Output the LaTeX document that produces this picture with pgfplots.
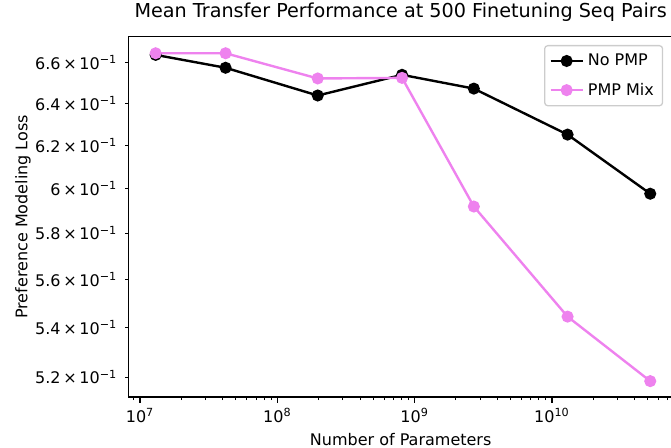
\documentclass[border=0pt]{standalone}
\usepackage{fontspec}
\setmainfont{DejaVu Sans}
\usepackage{pgfplots}
\pgfplotsset{compat=1.18}
\definecolor{mviolet}{RGB}{238,130,238}
\definecolor{legedge}{gray}{0.8}
\newcommand{\sci}[2]{#1\,×\,10\textsuperscript{−#2}}
\newcommand{\dec}[1]{10\textsuperscript{#1}}
\begin{document}
\begin{tikzpicture}
\begin{axis}[
  at={(0,0)}, anchor=south west,
  scale only axis, width=340.44pt, height=225.19pt,
  xmode=log, ymode=log,
  xmin=8.22e6, xmax=7.62e10, ymin=0.5122, ymax=0.6732,
  font=\fontsize{10}{12}\selectfont,
  axis line style={black, line width=0.8pt},
  tick pos=left, tick align=outside,
  major tick length=3.5pt, minor tick length=2pt,
  every tick/.style={black, line width=0.8pt},
  every minor tick/.append style={line width=0.6pt},
  xtick={1e7,1e8,1e9,1e10},
  xticklabels={\dec{7},\dec{8},\dec{9},\dec{10}},
  minor xtick={9e6,2e7,3e7,4e7,5e7,6e7,7e7,8e7,9e7,2e8,3e8,4e8,5e8,6e8,7e8,8e8,9e8,2e9,3e9,4e9,5e9,6e9,7e9,8e9,9e9,2e10,3e10,4e10,5e10,6e10,7e10},
  ytick={0.52,0.54,0.56,0.58,0.60,0.62,0.64,0.66},
  yticklabels={\sci{5.2}{1},\sci{5.4}{1},\sci{5.6}{1},\sci{5.8}{1},\sci{6}{1},\sci{6.2}{1},\sci{6.4}{1},\sci{6.6}{1}},
  yminorticks=false,
  ytick style={/pgfplots/major tick length=2pt, line width=0.6pt},
  title={Mean Transfer Performance at 500 Finetuning Seq Pairs},
  title style={font=\fontsize{12}{14.4}\selectfont, at={(0.5,1)}, anchor=base, yshift=6pt, inner sep=0pt},
  xlabel={Number of Parameters},
  ylabel={Preference Modeling Loss},
  ylabel shift=-4pt,
  legend style={at={(0.982,0.977)}, anchor=north east, draw=legedge, line width=0.8pt, rounded corners=2pt, fill=white,
    font=\fontsize{10}{12}\selectfont, inner xsep=3pt, inner ysep=2.7pt, row sep=4.3pt, nodes={inner sep=2.5pt}},
  legend cell align=left,
  legend image code/.code={\draw[mark repeat=2,mark phase=2] plot coordinates {(0pt,0pt) (10pt,0pt) (20pt,0pt)};},
]
\addplot[black, line width=1.5pt, mark=*, mark size=3pt, mark options={solid, fill=black}]
  coordinates {(1.3e7,0.6640) (4.2e7,0.6575) (1.97e8,0.6438) (8.1e8,0.6540) (2.7e9,0.6472) (1.3e10,0.6250) (5.2e10,0.5976)};
\addlegendentry{No PMP}
\addplot[mviolet, line width=1.5pt, mark=*, mark size=3pt, mark options={solid, fill=mviolet}]
  coordinates {(1.3e7,0.6648) (4.2e7,0.6648) (1.97e8,0.6522) (8.1e8,0.6525) (2.7e9,0.5918) (1.3e10,0.5444) (5.2e10,0.5184)};
\addlegendentry{PMP Mix}
\end{axis}
\pgfresetboundingbox
\path[use as bounding box] (-80.19pt,-31.875pt) rectangle (339.19pt,248.125pt);
\end{tikzpicture}
\end{document}
